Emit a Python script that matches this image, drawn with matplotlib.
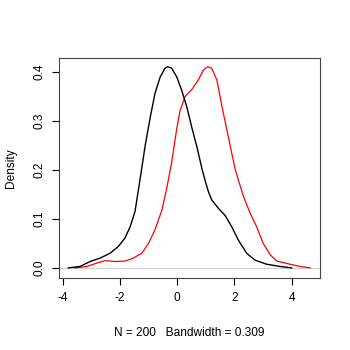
import matplotlib
matplotlib.use("Agg")
import matplotlib.pyplot as plt

black_x = [-3.80, -3.39, -3.04, -2.69, -2.34, -2.05, -1.82, -1.64, -1.47, -1.35, -1.23,
           -1.12, -0.94, -0.77, -0.59, -0.42, -0.33, -0.19, -0.01, 0.16, 0.34, 0.51,
           0.69, 0.86, 0.98, 1.10, 1.21, 1.44, 1.68, 1.91, 2.14, 2.43, 2.72, 3.13, 3.60, 4.00]
black_y = [0.000, 0.003, 0.013, 0.020, 0.030, 0.044, 0.061, 0.084, 0.115, 0.160, 0.205,
           0.248, 0.307, 0.357, 0.390, 0.408, 0.411, 0.408, 0.390, 0.363, 0.329, 0.288,
           0.248, 0.205, 0.178, 0.155, 0.139, 0.122, 0.107, 0.084, 0.057, 0.030, 0.016, 0.0075,
           0.003, 0.000]

red_x = [-3.56, -3.15, -2.80, -2.51, -2.17, -1.82, -1.53, -1.23, -1.00, -0.77, -0.53,
         -0.36, -0.19, -0.10, -0.01, 0.10, 0.28, 0.51, 0.74, 0.92, 1.07, 1.21, 1.39,
         1.56, 1.74, 1.91, 2.03, 2.14, 2.32, 2.55, 2.78, 3.01, 3.25, 3.48, 3.95, 4.30, 4.65]
red_y = [0.000, 0.003, 0.010, 0.015, 0.013, 0.014, 0.020, 0.030, 0.050, 0.078, 0.118,
         0.163, 0.215, 0.250, 0.285, 0.320, 0.350, 0.364, 0.384, 0.404, 0.411, 0.408, 0.384,
         0.332, 0.282, 0.234, 0.202, 0.180, 0.146, 0.112, 0.084, 0.050, 0.027, 0.014,
         0.0075, 0.003, 0.000]

x_ticks = [-4, -2, 0, 2, 4]
y_ticks = [0.0, 0.1, 0.2, 0.3, 0.4]
x_label = "N = 200   Bandwidth = 0.309"
y_label = "Density"

plt.rcParams['font.family'] = ['Liberation Sans', 'DejaVu Sans']
fig = plt.figure(figsize=(3.5, 3.5), dpi=100)
ax = fig.add_axes([0.169, 0.206, 0.745, 0.628])
ax.axhline(0, color='#d0d0d0', lw=0.8, zorder=1)
ax.plot(black_x, black_y, color='black', lw=1.0, zorder=3, solid_joinstyle='round')
ax.plot(red_x, red_y, color='red', lw=0.9, zorder=2, solid_joinstyle='round')
ax.set_xlim(-4.12, 4.99)
ax.set_ylim(-0.0204, 0.4286)
ax.set_xticks(x_ticks)
ax.set_xticklabels([str(t) for t in x_ticks])
ax.set_yticks(y_ticks)
ax.set_yticklabels(["%.1f" % t for t in y_ticks], rotation=90, va='center')
ax.tick_params(direction='out', length=5, width=0.8, labelsize=8.6, colors='black', pad=5)
for s in ax.spines.values():
    s.set_color('#444444')
    s.set_linewidth(0.8)
ax.set_xlabel(x_label, fontsize=8.6, labelpad=17)
ax.set_ylabel(y_label, fontsize=8.6, labelpad=12)
fig.savefig("out.png", dpi=100)
